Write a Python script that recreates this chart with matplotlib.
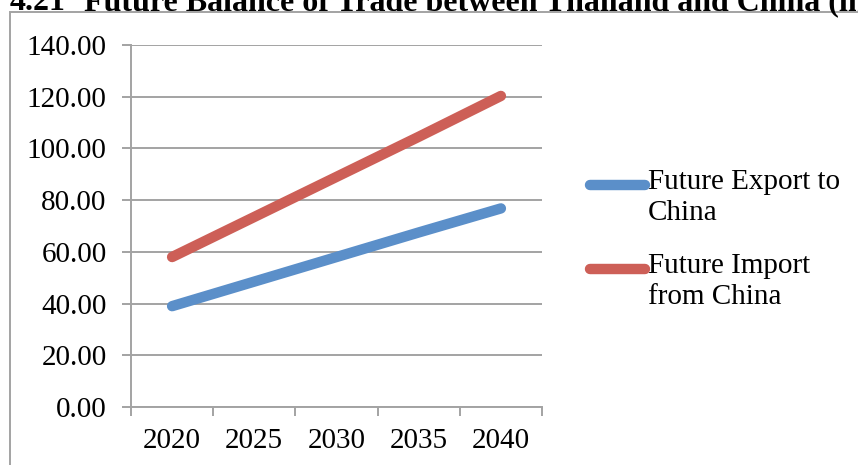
import matplotlib.pyplot as plt
from matplotlib.lines import Line2D
from matplotlib.patches import Rectangle

years = ['2020', '2025', '2030', '2035', '2040']
export_china = [39.0, 48.5, 58.0, 67.5, 76.8]
import_china = [58.0, 73.5, 89.0, 104.5, 120.3]
yticks = [0, 20, 40, 60, 80, 100, 120, 140]

serif = 'Liberation Serif'
grid_col = '#a3a3a3'
blue = '#5b8fc9'
red = '#cd5f57'
fs = 21

fig = plt.figure(figsize=(8.58, 4.65), dpi=100)
ax = fig.add_axes([131 / 858, 1 - 407 / 465, 411 / 858, 362 / 465])

x = list(range(len(years)))
ax.plot(x, export_china, color=blue, lw=7.5, solid_capstyle='round')
ax.plot(x, import_china, color=red, lw=7.5, solid_capstyle='round')

ax.set_xlim(-0.5, len(years) - 0.5)
ax.set_ylim(0, 140)
ax.set_yticks(yticks)
ax.set_yticklabels(['%.2f' % v for v in yticks], fontfamily=serif, fontsize=fs)
ax.yaxis.grid(True, color=grid_col, lw=1.4)
ax.set_axisbelow(True)

# category boundaries get the tick marks, labels sit in between
ax.set_xticks([i - 0.5 for i in range(len(years) + 1)])
ax.set_xticklabels([''] * (len(years) + 1))
ax.set_xticks(x, minor=True)
ax.set_xticklabels(years, minor=True, fontfamily=serif, fontsize=fs)
ax.tick_params(axis='x', which='minor', length=0, pad=15)
ax.tick_params(axis='x', which='major', length=6.5, width=1.4, color=grid_col)
ax.tick_params(axis='y', length=6.5, width=1.4, color=grid_col, pad=11)

for s in ['top', 'right']:
    ax.spines[s].set_visible(False)
for s in ['left', 'bottom']:
    ax.spines[s].set_color(grid_col)
    ax.spines[s].set_linewidth(1.4)

# legend drawn by hand so the line sits on the first text line
labels = ['Future Export to\nChina', 'Future Import\nfrom China']
colors = [blue, red]
rows = [185, 269]
for lab, c, yy in zip(labels, colors, rows):
    yf = 1 - yy / 465
    fig.add_artist(Line2D([590 / 858, 645 / 858], [yf, yf], color=c, lw=7.5,
                          solid_capstyle='round'))
    fig.text(648 / 858, yf + 16 / 465, lab, fontfamily=serif, fontsize=fs,
             va='top', ha='left', linespacing=1.25)

# outer chart border (extends past the crop)
fig.add_artist(Rectangle((9.5 / 858, -0.1), 1.2, 1.1 - 12 / 465, transform=fig.transFigure,
                         fill=False, edgecolor=grid_col, lw=1.4))

# title, cut off at the top in the source
fig.text(66 / 858, 1 - 10 / 465, '4.21', fontfamily=serif, fontweight='bold',
         fontsize=23, ha='right', va='baseline')
fig.text(84 / 858, 1 - 10 / 465, 'Future Balance of Trade between Thailand and China (in Billion USD)',
         fontfamily=serif, fontweight='bold', fontsize=23, ha='left', va='baseline')

fig.savefig('out.png', dpi=100)
